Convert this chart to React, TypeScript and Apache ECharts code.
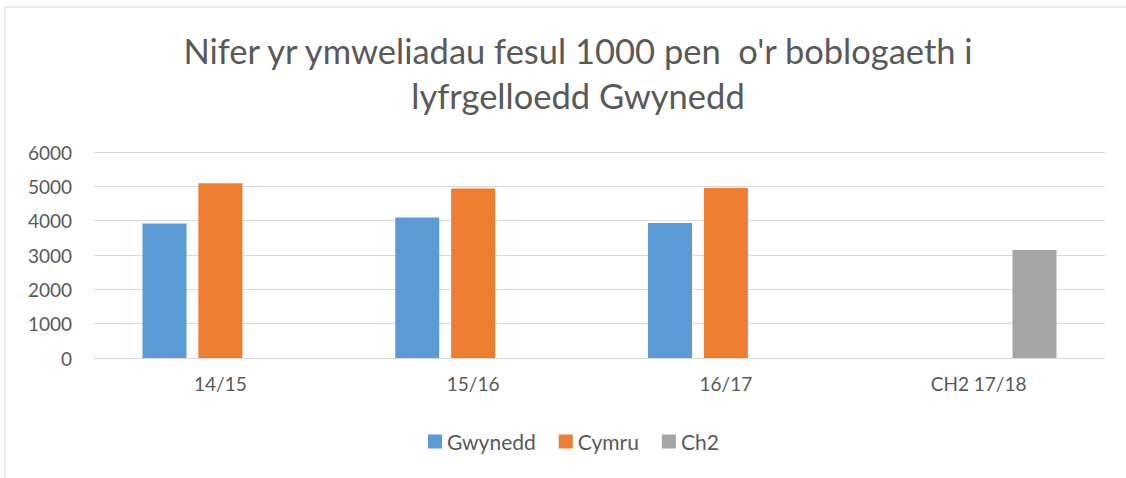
import React, { useEffect, useRef } from "react";
import * as echarts from "echarts";

const categories = ["14/15", "15/16", "16/17", "CH2 17/18"];
const gwynedd = [3920, 4095, 3930, null];
const cymru = [5090, 4940, 4955, null];
const ch2 = [null, null, null, 3145];
const yTicks = { min: 0, max: 6000, interval: 1000 };
const titleText = "Nifer yr ymweliadau fesul 1000 pen  o'r boblogaeth i\nlyfrgelloedd Gwynedd";

const FONT = "Lato, 'Open Sans', sans-serif";

export default function App() {
  const ref = useRef<HTMLDivElement>(null);
  useEffect(() => {
    if (!ref.current) return;
    const chart = echarts.init(ref.current, undefined, { renderer: "svg" });
    const barBase = { type: "bar" as const, barWidth: 44, barGap: "27%" };
    chart.setOption({
      animation: false,
      backgroundColor: "#ffffff",
      textStyle: { fontFamily: FONT },
      title: {
        text: titleText,
        left: 573,
        textAlign: "center",
        top: 23,
        textStyle: {
          fontFamily: FONT,
          fontSize: 34.5,
          fontWeight: "normal",
          color: "#595959",
          lineHeight: 45,
        },
      },
      graphic: [
        {
          type: "polyline",
          shape: { points: [[5, 478], [5, 7], [1126, 7]] },
          style: { stroke: "#d9d9d9", lineWidth: 1, fill: "none" },
          silent: true,
        },
      ],
      legend: {
        bottom: 26,
        left: 428,
        padding: 0,
        itemWidth: 14,
        itemHeight: 14,
        itemGap: 23,
        icon: "rect",
        textStyle: { fontFamily: FONT, fontSize: 21, color: "#595959" },
        data: ["Gwynedd", "Cymru", "Ch2"],
      },
      grid: { left: 94, right: 21, top: 152, bottom: 120, containLabel: false },
      xAxis: {
        type: "category",
        data: categories,
        axisLine: { show: true, lineStyle: { color: "#d9d9d9", width: 1 } },
        axisTick: { show: false },
        axisLabel: { color: "#595959", fontSize: 19, fontFamily: FONT, margin: 16 },
      },
      yAxis: {
        type: "value",
        min: yTicks.min,
        max: yTicks.max,
        interval: yTicks.interval,
        axisLine: { show: false },
        axisTick: { show: false },
        splitLine: { lineStyle: { color: "#d9d9d9", width: 1 } },
        axisLabel: {
          color: "#595959",
          fontSize: 19,
          fontFamily: FONT,
          margin: 22,
          formatter: (v: number) => String(v),
        },
      },
      series: [
        { ...barBase, name: "Gwynedd", data: gwynedd, itemStyle: { color: "#5b9bd5" } },
        { ...barBase, name: "Cymru", data: cymru, itemStyle: { color: "#ed7d31" } },
        { ...barBase, name: "Ch2", data: ch2, itemStyle: { color: "#a5a5a5" } },
      ],
    });
    return () => chart.dispose();
  }, []);
  return (
    <div
      ref={ref}
      style={{ position: "fixed", left: 0, top: 0, width: 1126, height: 478 }}
    />
  );
}
